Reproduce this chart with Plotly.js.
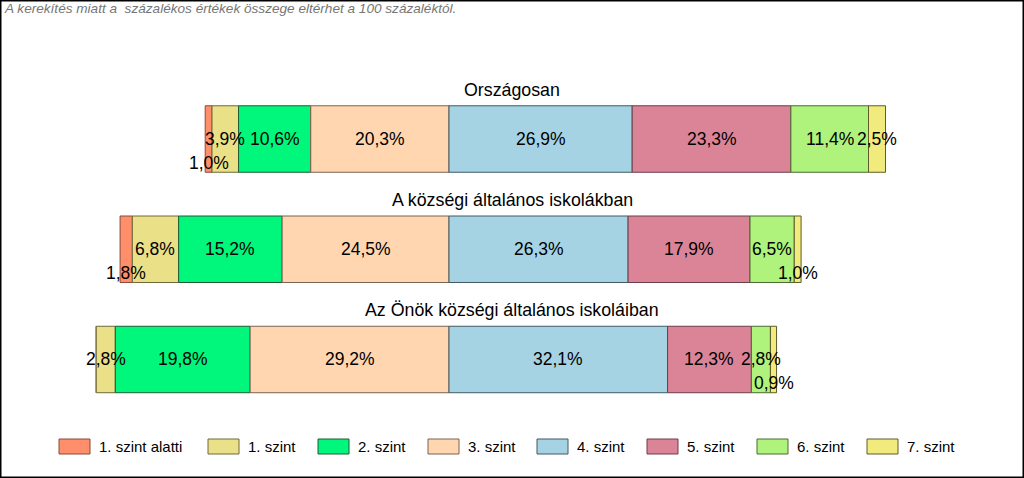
<!DOCTYPE html>
<html>
<head>
<meta charset="utf-8">
<script src="https://cdn.plot.ly/plotly-3.0.1.min.js"></script>
<style>
html,body{margin:0;padding:0;background:#fff;}
#chart{width:1024px;height:478px;}
</style>
</head>
<body>
<div id="chart"></div>
<script>
// ---- data ----
var categories = ['Országosan', 'A községi általános iskolákban', 'Az Önök községi általános iskoláiban'];
var levels = ['1. szint alatti', '1. szint', '2. szint', '3. szint', '4. szint', '5. szint', '6. szint', '7. szint'];
var orszagosan = [1.0, 3.9, 10.6, 20.3, 26.9, 23.3, 11.4, 2.5];
var kozsegi    = [1.8, 6.8, 15.2, 24.5, 26.3, 17.9, 6.5, 1.0];
var onok       = [0.0, 2.8, 19.8, 29.2, 32.1, 12.3, 2.8, 0.9];
var note = 'A kerekítés miatt a  százalékos értékek összege eltérhet a 100 százaléktól.';

// ---- style ----
var colors = ['#FF8E6A', '#E9E088', '#00F77B', '#FFD6B0', '#A6D3E4', '#DB8497', '#AFF27C', '#F1EB7E'];
var lineColors = ['#8a4a36', '#6e6a3a', '#1f5a34', '#7a6350', '#3f5a66', '#6a3e48', '#4a6a34', '#5e5a2a'];
var FONT = 'Liberation Sans, Arial, sans-serif';
var W = 1024, H = 478;
var legendSwatchX = [59, 208, 318, 428, 537, 647, 757, 867]; // px, left edge of each legend swatch
var legendY = 446.5;                                          // px, centre line of the legend

var rows = [orszagosan, kozsegi, onok];
var leftCount = 4; // levels left of the centre line (below 4. szint)

// bases so that the boundary between 3. and 4. szint sits at zero
var bases = rows.map(function (r) {
  var left = 0;
  for (var i = 0; i < leftCount; i++) left += r[i];
  var acc = -left, out = [];
  for (var j = 0; j < r.length; j++) { out.push(acc); acc += r[j]; }
  return out;
});

var traces = levels.map(function (lv, i) {
  return {
    type: 'bar',
    orientation: 'h',
    name: lv,
    y: categories,
    x: rows.map(function (r) { return r[i]; }),
    base: bases.map(function (b) { return b[i]; }),
    width: 0.603,
    marker: { color: colors[i], line: { color: lineColors[i], width: 1 } },
    showlegend: false,
    hoverinfo: 'skip'
  };
});

var annotations = [];
var shapes = [];
// value labels
rows.forEach(function (r, ri) {
  r.forEach(function (v, i) {
    if (v <= 0) return;
    annotations.push({
      x: bases[ri][i] + v / 2,
      y: categories[ri],
      xref: 'x', yref: 'y',
      text: v.toFixed(1).replace('.', ',') + '%',
      showarrow: false,
      yshift: v < 2 ? -24 : 0,
      font: { family: FONT, size: 17.5, color: '#000' }
    });
  });
});
// row titles
categories.forEach(function (c) {
  annotations.push({
    x: 0.5, xref: 'paper', y: c, yref: 'y', yshift: 49,
    text: c, showarrow: false,
    font: { family: FONT, size: 17.8, color: '#000' }
  });
});
// note
annotations.push({
  x: 0, y: 1, xref: 'paper', yref: 'paper', xanchor: 'left', yanchor: 'top',
  xshift: 2, yshift: 1,
  text: '<i>' + note + '</i>', showarrow: false,
  font: { family: FONT, size: 13.6, color: '#767676' }
});
// legend (swatches + labels)
levels.forEach(function (lv, i) {
  var x0 = legendSwatchX[i];
  shapes.push({
    type: 'rect', xref: 'paper', yref: 'paper',
    x0: x0 / W, x1: (x0 + 31) / W,
    y0: 1 - (legendY + 7.5) / H, y1: 1 - (legendY - 7.5) / H,
    fillcolor: colors[i], line: { color: lineColors[i], width: 1 }
  });
  annotations.push({
    x: (x0 + 38) / W, y: 1 - legendY / H, xref: 'paper', yref: 'paper',
    xanchor: 'left', yanchor: 'middle', showarrow: false,
    text: lv, font: { family: FONT, size: 15, color: '#000' }
  });
});
// outer frame
shapes.push({
  type: 'rect', xref: 'paper', yref: 'paper', x0: 0, y0: 0, x1: 1, y1: 1,
  line: { color: '#000', width: 3 }, fillcolor: 'rgba(0,0,0,0)'
});

var pxPerPct = 6.81, centre = 449;
var layout = {
  width: W, height: H,
  margin: { l: 0, r: 0, t: 0, b: 0 },
  paper_bgcolor: '#fff', plot_bgcolor: '#fff',
  barmode: 'overlay',
  showlegend: false,
  xaxis: {
    range: [-centre / pxPerPct, (W - centre) / pxPerPct],
    showgrid: false, zeroline: false, showticklabels: false, showline: false, ticks: ''
  },
  yaxis: {
    type: 'category', range: [3.075, -1.261],
    showgrid: false, zeroline: false, showticklabels: false, showline: false, ticks: ''
  },
  annotations: annotations,
  shapes: shapes
};

Plotly.newPlot('chart', traces, layout, { staticPlot: true, displayModeBar: false });
</script>
</body>
</html>
